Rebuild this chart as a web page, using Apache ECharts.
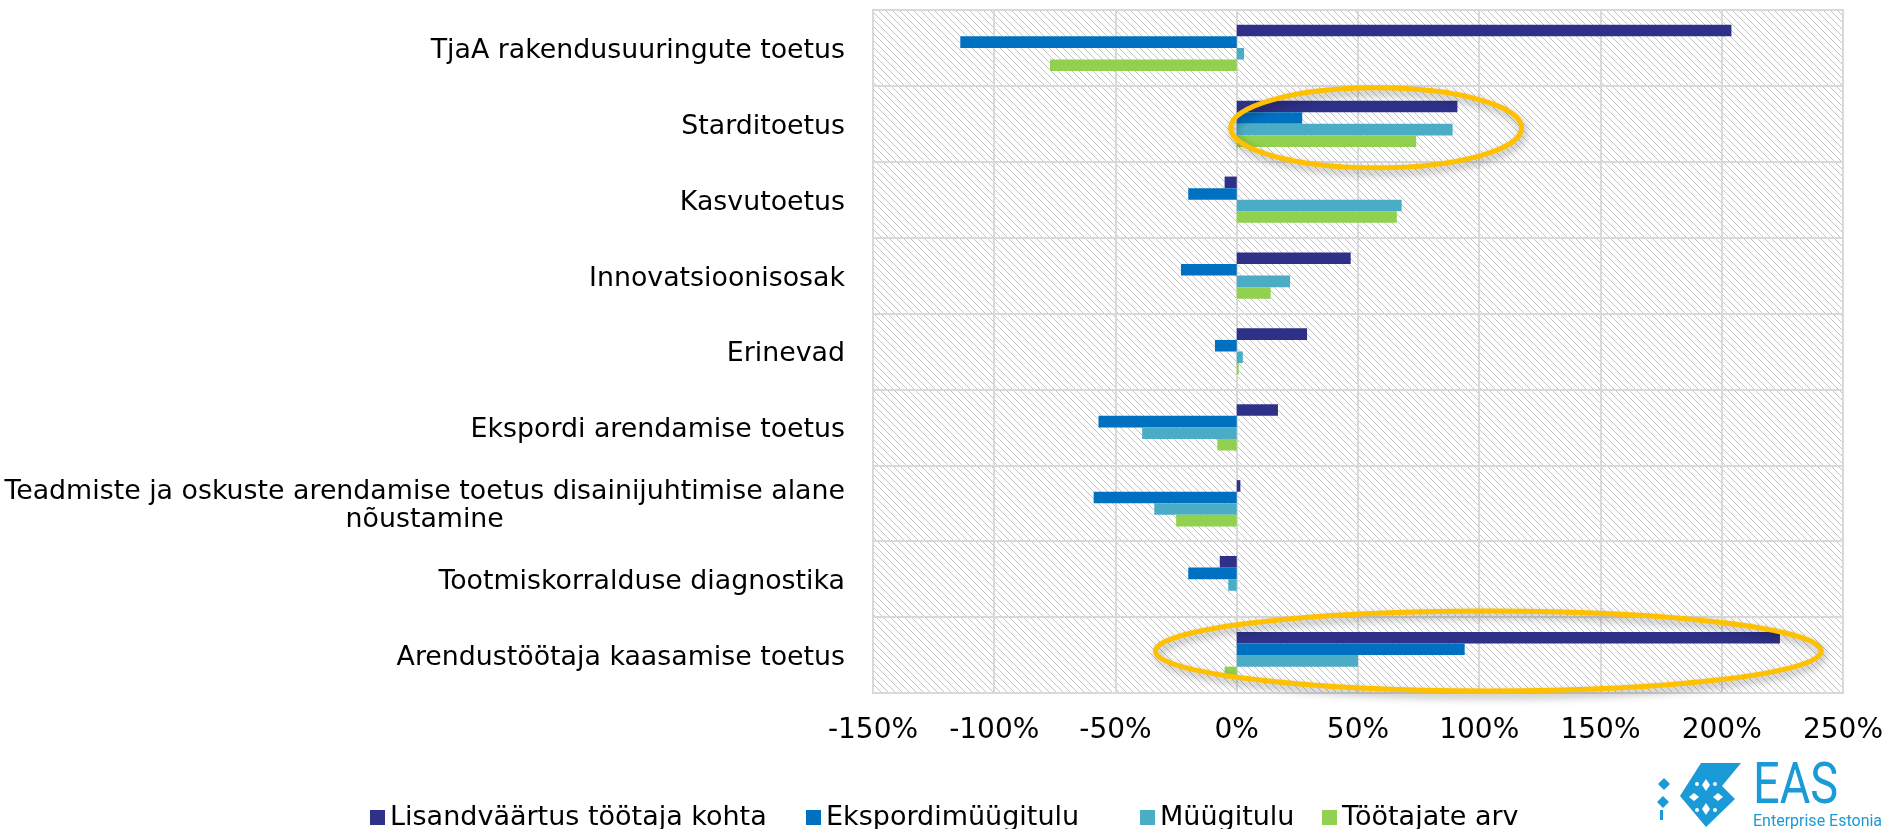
<!DOCTYPE html>
<html>
<head>
<meta charset="utf-8">
<script src="https://cdn.jsdelivr.net/npm/echarts@6/dist/echarts.min.js"></script>
<style>
  html, body { margin: 0; padding: 0; background: #fff; }
  #chart { width: 1886px; height: 829px; }
</style>
</head>
<body>
<div id="chart"></div>
<script>
var categories = [
    'TjaA rakendusuuringute toetus',
    'Starditoetus',
    'Kasvutoetus',
    'Innovatsioonisosak',
    'Erinevad',
    'Ekspordi arendamise toetus',
    'Teadmiste ja oskuste arendamise toetus disainijuhtimise alane\nnõustamine',
    'Tootmiskorralduse diagnostika',
    'Arendustöötaja kaasamise toetus'
];
var seriesNames = ['Lisandväärtus töötaja kohta', 'Ekspordimüügitulu', 'Müügitulu', 'Töötajate arv'];

// values in %
var lisandvaartus = [204, 91, -5, 47, 29, 17, 1.5, -7, 224];
var eksport = [-114, 27, -20, -23, -9, -57, -59, -20, 94];
var myygitulu = [3, 89, 68, 22, 2.5, -39, -34, -3.5, 50];
var tootajad = [-77, 74, 66, 14, 0.8, -8, -25, 0, -5];

var xTicks = { min: -150, max: 250, interval: 50 };

var colors = ['#2E3187', '#0070C0', '#4BACC6', '#92D050'];
var font = 'DejaVu Sans';
var catFontSize = 26.8;

var dom = document.getElementById('chart');
var myChart = echarts.init(dom);

// diagonal hatch for the plot area
var hatch = document.createElement('canvas');
hatch.width = 7;
hatch.height = 7;
var hctx = hatch.getContext('2d');
hctx.fillStyle = '#c4c4c4';
for (var i = 0; i < 7; i++) {
    hctx.fillRect(i, i, 1, 1);
}

// two-line category label: second line centred under the first
var measure = document.createElement('canvas').getContext('2d');
measure.font = catFontSize + 'px "' + font + '"';
function catLabel(v) {
    if (v.indexOf('\n') < 0) return v;
    var lines = v.split('\n');
    return '{a|' + lines[0] + '}\n{b|' + lines[1] + '}';
}
var twoLines = categories.filter(function (c) { return c.indexOf('\n') >= 0; })[0].split('\n');
var centrePad = (measure.measureText(twoLines[0]).width - measure.measureText(twoLines[1]).width) / 2;

var allData = [lisandvaartus, eksport, myygitulu, tootajad];
var series = allData.map(function (d, i) {
    return {
        name: seriesNames[i],
        type: 'bar',
        data: d,
        barGap: '0%',
        barCategoryGap: '39%',
        itemStyle: { color: colors[i] }
    };
});

var legendLeft = [370, 806, 1140, 1322];
var legends = seriesNames.map(function (n, i) {
    return {
        data: [n],
        left: legendLeft[i],
        top: 804,
        padding: 0,
        icon: 'rect',
        itemWidth: 15,
        itemHeight: 15,
        itemGap: 0,
        selectedMode: false,
        textStyle: { fontFamily: font, fontSize: 27, color: '#000' }
    };
});

var option = {
    animation: false,
    backgroundColor: '#fff',
    color: colors,
    legend: legends,
    grid: {
        left: 873,
        right: 39,
        top: 10,
        bottom: 136,
        show: true,
        backgroundColor: { image: hatch, repeat: 'repeat' },
        borderColor: '#d9d9d9',
        borderWidth: 2
    },
    xAxis: {
        type: 'value',
        min: xTicks.min,
        max: xTicks.max,
        interval: xTicks.interval,
        axisLine: { show: false },
        axisTick: { show: false },
        splitLine: { lineStyle: { color: '#d9d9d9', width: 2 } },
        axisLabel: {
            formatter: '{value}%',
            margin: 24,
            fontFamily: font,
            fontSize: 28,
            color: '#000'
        }
    },
    yAxis: {
        type: 'category',
        data: categories,
        inverse: true,
        axisLine: { show: false },
        axisTick: { show: false },
        splitLine: { show: true, lineStyle: { color: '#d9d9d9', width: 2 } },
        axisLabel: {
            interval: 0,
            margin: 28,
            fontFamily: font,
            fontSize: catFontSize,
            color: '#000',
            lineHeight: 28,
            padding: [6, 0, 0, 0],
            formatter: catLabel,
            rich: {
                a: { fontFamily: font, fontSize: catFontSize, color: '#000', lineHeight: 28 },
                b: { fontFamily: font, fontSize: catFontSize, color: '#000', lineHeight: 28, padding: [0, centrePad, 0, 0] }
            }
        }
    },
    series: series
};

myChart.setOption(option);

// highlight ellipses around two categories (x range in %)
var highlights = [
    { cat: 1, from: -2.5, to: 117.5, dy: 4 },
    { cat: 8, from: -33.5, to: 241, dy: -4 }
];
var graphics = highlights.map(function (h) {
    var p0 = myChart.convertToPixel({ gridIndex: 0 }, [h.from, h.cat]);
    var p1 = myChart.convertToPixel({ gridIndex: 0 }, [h.to, h.cat]);
    return {
        type: 'ellipse',
        z: 100,
        shape: { cx: (p0[0] + p1[0]) / 2, cy: p0[1] + h.dy, rx: (p1[0] - p0[0]) / 2, ry: 40 },
        style: {
            fill: null,
            stroke: '#FFC000',
            lineWidth: 5,
            shadowBlur: 8,
            shadowColor: 'rgba(0,0,0,0.35)',
            shadowOffsetX: 2,
            shadowOffsetY: 4
        }
    };
});

// EAS logo
var logoBlue = '#1A9AD6';
var logoParts = [
    {
        type: 'polygon',
        shape: { points: [[1680, 796], [1701, 763], [1741, 763], [1722, 786], [1735, 799], [1706, 827]] },
        style: { fill: logoBlue }
    },
    { type: 'polygon', shape: { points: [[1664, 778], [1670, 784], [1664, 790], [1658, 784]] }, style: { fill: logoBlue } },
    { type: 'polygon', shape: { points: [[1663, 796], [1669, 802], [1663, 808], [1657, 802]] }, style: { fill: logoBlue } },
    { type: 'rect', shape: { x: 1660, y: 810, width: 3, height: 10 }, style: { fill: logoBlue } },
    { type: 'polygon', shape: { points: [[1706, 779], [1710, 785], [1706, 791], [1702, 785]] }, style: { fill: '#fff' } },
    { type: 'polygon', shape: { points: [[1706, 803], [1710, 809], [1706, 815], [1702, 809]] }, style: { fill: '#fff' } },
    { type: 'polygon', shape: { points: [[1694, 793], [1699, 797], [1694, 801], [1689, 797]] }, style: { fill: '#fff' } },
    { type: 'polygon', shape: { points: [[1718, 793], [1723, 797], [1718, 801], [1713, 797]] }, style: { fill: '#fff' } },
    { type: 'circle', shape: { cx: 1697, cy: 784, r: 2 }, style: { fill: '#fff' } },
    { type: 'circle', shape: { cx: 1715, cy: 784, r: 2 }, style: { fill: '#fff' } },
    { type: 'circle', shape: { cx: 1697, cy: 810, r: 2 }, style: { fill: '#fff' } },
    { type: 'circle', shape: { cx: 1715, cy: 810, r: 2 }, style: { fill: '#fff' } },
    {
        type: 'text',
        x: 1753,
        y: 759,
        scaleX: 0.81,
        style: { text: 'EAS', fill: logoBlue, font: '58px Roboto', textVerticalAlign: 'top' }
    },
    {
        type: 'text',
        x: 1753,
        y: 814,
        style: { text: 'Enterprise Estonia', fill: logoBlue, font: '16px Roboto', textVerticalAlign: 'top' }
    }
];
logoParts.forEach(function (p) { graphics.push(p); });

myChart.setOption({ graphic: graphics });
</script>
</body>
</html>
